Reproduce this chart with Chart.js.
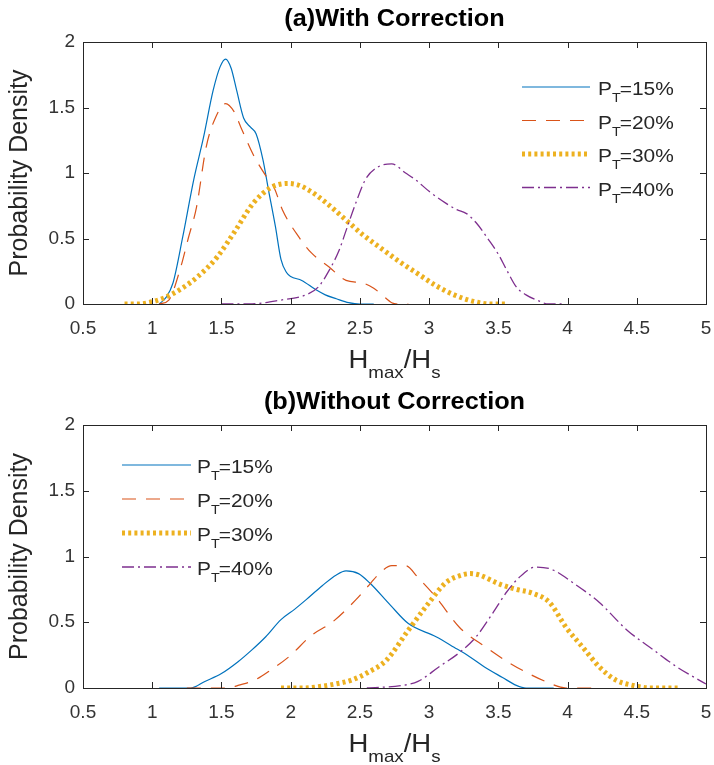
<!DOCTYPE html>
<html>
<head>
<meta charset="utf-8">
<script src="https://cdn.jsdelivr.net/npm/chart.js@4.4.1/dist/chart.umd.min.js"></script>
<style>
  html, body { margin: 0; padding: 0; background: #fff; }
  #wrap { position: relative; width: 714px; height: 765px; }
  canvas { position: absolute; left: 0; }
</style>
</head>
<body>
<div id="wrap">
  <canvas id="chartA" width="714" height="380" style="top:0px"></canvas>
  <canvas id="chartB" width="714" height="385" style="top:380px"></canvas>
</div>
<script>
// tick labels
const xTickValues = [0.5, 1, 1.5, 2, 2.5, 3, 3.5, 4, 4.5, 5];
const yTickValues = [0, 0.5, 1, 1.5, 2];
const seriesNames = ['=15%', '=20%', '=30%', '=40%'];

// (a) With Correction
const a15x = [1.05, 1.10, 1.15, 1.22, 1.30, 1.37, 1.44, 1.49, 1.53, 1.57, 1.61, 1.66, 1.71, 1.75, 1.80, 1.84, 1.89, 1.93, 1.97, 2.00, 2.08, 2.18, 2.25, 2.33, 2.42, 2.50, 2.60];
const a15y = [0, 0.05, 0.16, 0.51, 0.95, 1.27, 1.63, 1.81, 1.87, 1.80, 1.63, 1.42, 1.35, 1.30, 1.10, 0.87, 0.59, 0.34, 0.24, 0.21, 0.18, 0.11, 0.07, 0.04, 0.01, 0, 0];
const a20x = [1.05, 1.12, 1.20, 1.26, 1.32, 1.39, 1.46, 1.53, 1.59, 1.64, 1.73, 1.82, 1.88, 1.94, 2.06, 2.15, 2.28, 2.40, 2.52, 2.60, 2.66, 2.73, 2.78, 2.85];
const a20y = [0, 0.03, 0.26, 0.50, 0.74, 1.20, 1.43, 1.53, 1.47, 1.35, 1.14, 0.98, 0.89, 0.72, 0.51, 0.39, 0.28, 0.18, 0.16, 0.12, 0.07, 0.01, 0, 0];
const a30x = [0.80, 0.90, 0.97, 1.07, 1.20, 1.33, 1.47, 1.60, 1.73, 1.86, 1.98, 2.05, 2.13, 2.26, 2.39, 2.52, 2.66, 2.79, 2.92, 3.05, 3.18, 3.32, 3.45, 3.56];
const a30y = [0, 0, 0.01, 0.04, 0.11, 0.21, 0.36, 0.56, 0.77, 0.89, 0.92, 0.91, 0.87, 0.77, 0.65, 0.53, 0.42, 0.32, 0.23, 0.14, 0.07, 0.02, 0, 0];
const a40x = [1.50, 1.70, 1.93, 2.11, 2.20, 2.28, 2.35, 2.40, 2.47, 2.54, 2.62, 2.73, 2.83, 2.90, 3.00, 3.12, 3.20, 3.27, 3.34, 3.43, 3.50, 3.56, 3.63, 3.70, 3.80, 3.86, 3.96];
const a40y = [0, 0, 0.03, 0.07, 0.13, 0.26, 0.41, 0.56, 0.77, 0.95, 1.04, 1.07, 1.00, 0.95, 0.86, 0.77, 0.72, 0.69, 0.62, 0.49, 0.38, 0.26, 0.13, 0.07, 0.02, 0, 0];

// (b) Without Correction
const b15x = [1.05, 1.28, 1.38, 1.50, 1.62, 1.72, 1.82, 1.93, 2.03, 2.11, 2.23, 2.33, 2.40, 2.49, 2.57, 2.72, 2.85, 3.05, 3.18, 3.29, 3.40, 3.53, 3.63, 3.70, 3.90];
const b15y = [0, 0, 0.05, 0.11, 0.20, 0.29, 0.39, 0.52, 0.60, 0.67, 0.78, 0.86, 0.89, 0.87, 0.80, 0.63, 0.49, 0.39, 0.31, 0.24, 0.16, 0.08, 0.02, 0, 0];
const b20x = [1.25, 1.55, 1.62, 1.74, 1.86, 1.99, 2.15, 2.30, 2.47, 2.58, 2.64, 2.73, 2.83, 2.92, 3.05, 3.22, 3.41, 3.58, 3.70, 3.84, 3.99, 4.20];
const b20y = [0, 0, 0.02, 0.06, 0.14, 0.24, 0.40, 0.50, 0.67, 0.80, 0.87, 0.93, 0.93, 0.84, 0.69, 0.46, 0.31, 0.19, 0.12, 0.05, 0, 0];
const b30x = [1.93, 2.10, 2.20, 2.32, 2.44, 2.56, 2.69, 2.85, 3.00, 3.12, 3.24, 3.30, 3.36, 3.51, 3.63, 3.75, 3.87, 3.99, 4.11, 4.23, 4.35, 4.47, 4.60, 4.80];
const b30y = [0, 0, 0.01, 0.03, 0.06, 0.12, 0.21, 0.44, 0.65, 0.80, 0.86, 0.87, 0.86, 0.79, 0.75, 0.72, 0.65, 0.46, 0.31, 0.16, 0.06, 0.02, 0, 0];
const b40x = [2.55, 2.81, 2.92, 3.07, 3.22, 3.34, 3.46, 3.56, 3.65, 3.77, 3.89, 4.04, 4.23, 4.43, 4.62, 4.79, 5.00];
const b40y = [0, 0.02, 0.05, 0.16, 0.27, 0.39, 0.57, 0.73, 0.84, 0.92, 0.90, 0.80, 0.65, 0.44, 0.29, 0.16, 0.03];

const FONT = "'Liberation Sans', Arial, Helvetica, sans-serif";
const STRETCH = 1.1; // matlab export text is a bit wider than Arial
Chart.defaults.font.family = FONT;

// matlab line styles
const lineStyles = [
  { color: '#0072BD', width: 1.2, dash: [] },
  { color: '#D95319', width: 1.2, dash: [14, 10] },
  { color: '#EDB120', width: 5, dash: [3, 3.2] },
  { color: '#7E2F8E', width: 1.3, dash: [12, 4, 2, 4] }
];

function pts(xs, ys) {
  return xs.map((x, i) => ({ x: x, y: ys[i] }));
}

function wideText(ctx, txt, x, y) {
  ctx.save();
  ctx.translate(x, y);
  ctx.scale(STRETCH, 1);
  ctx.fillText(txt, 0, 0);
  ctx.restore();
}

// box, inward ticks, titles and legend drawn like matlab
const matlabAxes = {
  id: 'matlabAxes',
  afterDraw(chart, args, opts) {
    const ctx = chart.ctx;
    const a = chart.chartArea;
    const xs = chart.scales.x, ys = chart.scales.y;
    ctx.save();
    ctx.strokeStyle = '#262626';
    ctx.lineWidth = 1;
    ctx.setLineDash([]);
    ctx.strokeRect(Math.round(a.left) + 0.5, Math.round(a.top) + 0.5, Math.round(a.right - a.left), Math.round(a.bottom - a.top));
    ctx.beginPath();
    xTickValues.forEach(v => {
      const px = Math.round(xs.getPixelForValue(v)) + 0.5;
      ctx.moveTo(px, a.bottom); ctx.lineTo(px, a.bottom - 6);
      ctx.moveTo(px, a.top); ctx.lineTo(px, a.top + 6);
    });
    yTickValues.forEach(v => {
      const py = Math.round(ys.getPixelForValue(v)) + 0.5;
      ctx.moveTo(a.left, py); ctx.lineTo(a.left + 6, py);
      ctx.moveTo(a.right, py); ctx.lineTo(a.right - 6, py);
    });
    ctx.stroke();

    const cx = (a.left + a.right) / 2;
    ctx.fillStyle = '#000';
    ctx.textBaseline = 'alphabetic';
    ctx.textAlign = 'center';
    ctx.font = 'bold 23px ' + FONT;
    wideText(ctx, opts.title, cx, opts.titleY);

    // y axis title
    ctx.save();
    ctx.fillStyle = '#262626';
    ctx.translate(opts.yTitleX, (a.top + a.bottom) / 2);
    ctx.rotate(-Math.PI / 2);
    ctx.font = '25px ' + FONT;
    ctx.fillText('Probability Density', 0, 0);
    ctx.restore();

    // x axis title H_max/H_s
    ctx.fillStyle = '#262626';
    ctx.textAlign = 'left';
    const parts = [
      { t: 'H', size: 25, dy: 0 },
      { t: 'max', size: 17, dy: 10 },
      { t: '/H', size: 25, dy: 0 },
      { t: 's', size: 17, dy: 10 }
    ];
    let total = 0;
    parts.forEach(p => { ctx.font = p.size + 'px ' + FONT; p.w = ctx.measureText(p.t).width * STRETCH; total += p.w; });
    let tx = cx - total / 2;
    parts.forEach(p => {
      ctx.font = p.size + 'px ' + FONT;
      wideText(ctx, p.t, tx, opts.xTitleY + p.dy);
      tx += p.w;
    });

    // legend
    const lg = opts.legend;
    chart.data.datasets.forEach((ds, i) => {
      const y = lg.y + i * lg.step;
      const st = lineStyles[i];
      ctx.strokeStyle = st.color;
      ctx.lineWidth = st.width;
      ctx.lineCap = 'butt';
      ctx.setLineDash(st.dash);
      ctx.beginPath();
      ctx.moveTo(lg.x0, y); ctx.lineTo(lg.x1, y);
      ctx.stroke();
      ctx.setLineDash([]);
      ctx.fillStyle = '#262626';
      let px = lg.tx;
      ctx.font = '19px ' + FONT;
      wideText(ctx, 'P', px, y + 8);
      px += ctx.measureText('P').width * STRETCH;
      ctx.font = '13px ' + FONT;
      wideText(ctx, 'T', px, y + 15);
      px += ctx.measureText('T').width * STRETCH - 1;
      ctx.font = '19px ' + FONT;
      wideText(ctx, seriesNames[i], px, y + 8);
    });
    ctx.restore();
  }
};

function makeChart(id, series, cfg) {
  const ctx = document.getElementById(id).getContext('2d');
  return new Chart(ctx, {
    type: 'line',
    data: {
      datasets: series.map((s, i) => ({
        label: 'P_T' + seriesNames[i],
        data: pts(s[0], s[1]),
        borderColor: lineStyles[i].color,
        borderWidth: lineStyles[i].width,
        borderDash: lineStyles[i].dash,
        borderCapStyle: 'butt',
        pointRadius: 0,
        fill: false,
        cubicInterpolationMode: 'monotone',
        order: 3 - i
      }))
    },
    options: {
      responsive: false,
      animation: false,
      events: [],
      layout: { padding: { left: 0, right: 8, top: cfg.padTop, bottom: 0 } },
      plugins: {
        legend: { display: false },
        tooltip: { enabled: false },
        matlabAxes: cfg.deco
      },
      scales: {
        x: {
          type: 'linear',
          min: 0.5,
          max: 5,
          grid: { display: false, drawTicks: false },
          border: { display: false },
          afterBuildTicks: s => { s.ticks = xTickValues.map(v => ({ value: v })); },
          afterFit: s => { s.height = cfg.xHeight; s.paddingLeft = 0; s.paddingRight = 0; },
          ticks: { color: '#333', font: { size: 19 }, padding: 13, maxRotation: 0, autoSkip: false, callback: v => String(v) }
        },
        y: {
          type: 'linear',
          min: 0,
          max: 2,
          grid: { display: false, drawTicks: false },
          border: { display: false },
          afterBuildTicks: s => { s.ticks = yTickValues.map(v => ({ value: v })); },
          afterFit: s => { s.width = 83; s.paddingTop = 0; s.paddingBottom = 0; },
          ticks: { color: '#333', font: { size: 19 }, padding: 8, autoSkip: false, callback: v => String(v) }
        }
      }
    },
    plugins: [matlabAxes]
  });
}

makeChart('chartA', [[a15x, a15y], [a20x, a20y], [a30x, a30y], [a40x, a40y]], {
  padTop: 42, xHeight: 76,
  deco: {
    title: '(a)With Correction', titleY: 26, yTitleX: 27, xTitleY: 368,
    legend: { x0: 522, x1: 590, tx: 598, y: 87, step: 33.5 }
  }
});

makeChart('chartB', [[b15x, b15y], [b20x, b20y], [b30x, b30y], [b40x, b40y]], {
  padTop: 45, xHeight: 77,
  deco: {
    title: '(b)Without Correction', titleY: 29, yTitleX: 27, xTitleY: 372,
    legend: { x0: 122, x1: 191, tx: 197, y: 85, step: 34 }
  }
});
</script>
</body>
</html>
